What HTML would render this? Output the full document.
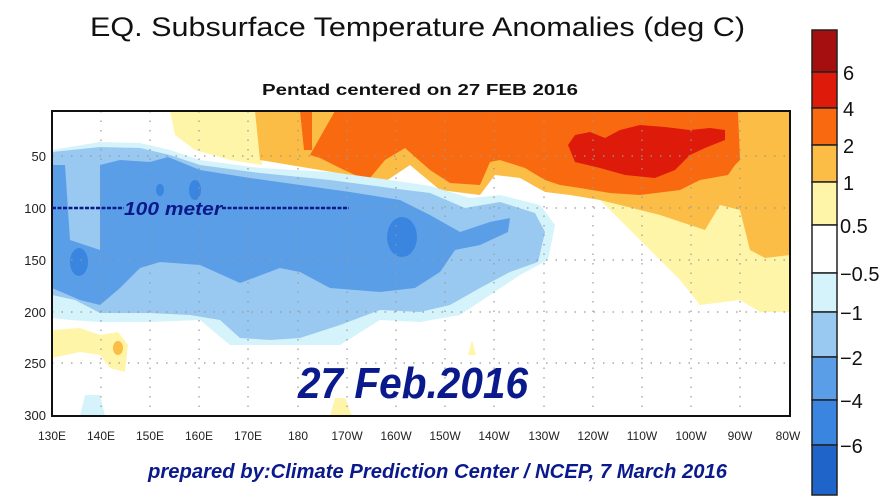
<!DOCTYPE html>
<html><head><meta charset="utf-8"><style>
html,body{margin:0;padding:0;background:#fff;}
svg{display:block;}
</style></head><body>
<svg width="896" height="499" viewBox="0 0 896 499" xmlns="http://www.w3.org/2000/svg" font-family="Liberation Sans, sans-serif">
<rect width="896" height="499" fill="#fff"/>
<text x="90" y="36" font-size="27" textLength="655" lengthAdjust="spacingAndGlyphs" fill="#111">EQ. Subsurface Temperature Anomalies (deg C)</text>
<text x="262" y="95" font-size="16" font-weight="bold" textLength="316" lengthAdjust="spacingAndGlyphs" fill="#111">Pentad centered on 27 FEB 2016</text>
<clipPath id="c"><rect x="52" y="111" width="738" height="305"/></clipPath>
<g clip-path="url(#c)">
<!-- pale yellow left-top -->
<path d="M170 111 L262 111 L262 165 L230 160 L195 150 L175 135 Z" fill="#fff5a8"/>
<!-- right pale yellow -->
<path d="M600 200 L790 190 L790 312 L760 312 L740 300 L700 305 L680 280 L660 260 L640 240 L615 215 Z" fill="#fff5a8"/>
<!-- light orange -->
<path d="M255 111 L790 111 L790 255 L765 258 L750 250 L740 210 L720 205 L705 230 L690 225 L660 215 L620 205 L600 200 L570 195 L545 192 L520 178 L495 175 L480 195 L440 190 L410 165 L380 185 L350 175 L320 170 L290 165 L260 160 Z" fill="#fbbd45"/>
<!-- orange -->
<path d="M335 111 L738 111 L740 160 L735 165 L728 175 L700 180 L680 190 L640 195 L610 193 L580 188 L560 185 L545 180 L525 168 L500 160 L490 162 L480 185 L450 183 L430 170 L405 148 L385 160 L370 178 L355 175 L340 168 L320 158 L310 155 Z" fill="#f96a10"/>
<path d="M300 111 L312 111 L312 150 L304 150 Z" fill="#f96a10"/>
<!-- red -->
<path d="M568 145 L575 135 L590 132 L605 138 L620 130 L640 125 L665 127 L690 130 L710 128 L725 130 L725 140 L705 148 L690 155 L675 170 L655 178 L625 175 L600 168 L575 162 Z" fill="#de1b0b"/>
<!-- light cyan -->
<path d="M52 150 L100 142 L140 143 L170 150 L200 160 L260 168 L330 172 L390 180 L430 186 L470 198 L500 195 L540 205 L555 225 L548 260 L520 275 L490 295 L460 315 L420 322 L380 320 L340 345 L300 345 L260 345 L230 345 L200 320 L150 322 L100 322 L70 320 L52 318 Z" fill="#d5f3fb"/>
<path d="M85 395 L100 395 L105 416 L80 416 Z" fill="#d5f3fb"/>
<!-- light blue -->
<path d="M52 152 L100 147 L140 148 L170 155 L200 165 L260 173 L330 180 L390 188 L430 193 L465 208 L500 202 L535 213 L545 232 L538 262 L510 272 L480 288 L450 305 L420 312 L380 310 L340 325 L300 338 L270 340 L240 338 L220 320 L190 315 L150 313 L100 313 L75 300 L52 295 Z" fill="#99c8f0"/>
<!-- blue -->
<path d="M52 165 L65 165 L70 240 L100 250 L100 165 L120 160 L150 162 L168 157 L200 170 L250 178 L300 185 L350 192 L400 200 L430 215 L460 232 L490 222 L510 218 L508 232 L480 245 L455 250 L440 272 L415 288 L380 292 L330 288 L300 272 L280 268 L240 283 L200 265 L160 262 L140 268 L120 288 L100 305 L80 300 L52 288 Z" fill="#5b9ee8"/>
<!-- dark spots -->
<ellipse cx="79" cy="262" rx="9" ry="14" fill="#3a85e0"/>
<ellipse cx="402" cy="237" rx="15" ry="20" fill="#3a85e0"/>
<ellipse cx="195" cy="190" rx="6" ry="10" fill="#3a85e0"/>
<ellipse cx="160" cy="190" rx="4" ry="6" fill="#3a85e0"/>
<!-- bottom yellow -->
<path d="M52 330 L80 328 L100 335 L118 332 L128 345 L125 372 L110 368 L100 355 L80 352 L52 358 Z" fill="#fff5a8"/>
<ellipse cx="118" cy="348" rx="5" ry="7" fill="#fbbd45"/>
<path d="M335 398 L345 398 L352 416 L330 416 Z" fill="#fff5a8"/>
<path d="M468 355 L472 340 L476 355 Z" fill="#fff5a8"/>
</g>
<!-- grid -->
<g stroke="#999" stroke-width="1.2" stroke-dasharray="1.5 8">
<line x1="52" x2="790" y1="156" y2="156"/><line x1="52" x2="790" y1="208" y2="208"/><line x1="52" x2="790" y1="260" y2="260"/><line x1="52" x2="790" y1="312" y2="312"/><line x1="52" x2="790" y1="363" y2="363"/>
<line x1="101" x2="101" y1="111" y2="416"/><line x1="150" x2="150" y1="111" y2="416"/><line x1="199" x2="199" y1="111" y2="416"/><line x1="248" x2="248" y1="111" y2="416"/><line x1="298" x2="298" y1="111" y2="416"/><line x1="347" x2="347" y1="111" y2="416"/><line x1="396" x2="396" y1="111" y2="416"/><line x1="445" x2="445" y1="111" y2="416"/><line x1="494" x2="494" y1="111" y2="416"/><line x1="544" x2="544" y1="111" y2="416"/><line x1="593" x2="593" y1="111" y2="416"/><line x1="642" x2="642" y1="111" y2="416"/><line x1="691" x2="691" y1="111" y2="416"/><line x1="740" x2="740" y1="111" y2="416"/>
</g>
<rect x="52" y="111" width="738" height="305" fill="none" stroke="#111" stroke-width="2"/>
<g font-size="13" fill="#222" text-anchor="end">
<text x="46" y="161">50</text><text x="46" y="213">100</text><text x="46" y="265">150</text><text x="46" y="317">200</text><text x="46" y="368">250</text><text x="46" y="420">300</text>
</g>
<g font-size="12" fill="#222" text-anchor="middle">
<text x="52" y="440">130E</text><text x="101" y="440">140E</text><text x="150" y="440">150E</text><text x="199" y="440">160E</text><text x="248" y="440">170E</text><text x="298" y="440">180</text><text x="347" y="440">170W</text><text x="396" y="440">160W</text><text x="445" y="440">150W</text><text x="494" y="440">140W</text><text x="544" y="440">130W</text><text x="593" y="440">120W</text><text x="642" y="440">110W</text><text x="691" y="440">100W</text><text x="740" y="440">90W</text><text x="788" y="440">80W</text>
</g>
<line x1="52" x2="124" y1="208" y2="208" stroke="#0a1a8c" stroke-width="2.5" stroke-dasharray="4 1.5"/>
<line x1="222" x2="349" y1="208" y2="208" stroke="#0a1a8c" stroke-width="2.5" stroke-dasharray="4 1.5"/>
<text x="124" y="215" font-size="18" font-style="italic" font-weight="bold" fill="#0a1a8c" textLength="98" lengthAdjust="spacingAndGlyphs">100 meter</text>
<text x="298" y="398" font-size="44" font-style="italic" font-weight="bold" fill="#0a1a8c" textLength="230" lengthAdjust="spacingAndGlyphs">27 Feb.2016</text>
<text x="148" y="478" font-size="20" font-style="italic" font-weight="bold" fill="#0a1a8c" textLength="579" lengthAdjust="spacingAndGlyphs">prepared by:Climate Prediction Center / NCEP, 7 March 2016</text>
<!-- colorbar -->
<g stroke="#222" stroke-width="1.5">
<rect x="812" y="30" width="25" height="42" fill="#a50f0f"/>
<rect x="812" y="72" width="25" height="36" fill="#de1b0b"/>
<rect x="812" y="108" width="25" height="37" fill="#f96a10"/>
<rect x="812" y="145" width="25" height="37" fill="#fbbd45"/>
<rect x="812" y="182" width="25" height="43" fill="#fff5a8"/>
<rect x="812" y="225" width="25" height="48" fill="#ffffff"/>
<rect x="812" y="273" width="25" height="39" fill="#d5f3fb"/>
<rect x="812" y="312" width="25" height="45" fill="#99c8f0"/>
<rect x="812" y="357" width="25" height="43" fill="#5b9ee8"/>
<rect x="812" y="400" width="25" height="45" fill="#3a85e0"/>
<rect x="812" y="445" width="25" height="50" fill="#1f64c8"/>
</g>
<g font-size="20" fill="#111">
<text x="843" y="80">6</text><text x="843" y="116">4</text><text x="843" y="153">2</text><text x="843" y="190">1</text><text x="840" y="233">0.5</text><text x="840" y="281">−0.5</text><text x="840" y="320">−1</text><text x="840" y="365">−2</text><text x="840" y="408">−4</text><text x="840" y="453">−6</text>
</g>
</svg>
</body></html>
